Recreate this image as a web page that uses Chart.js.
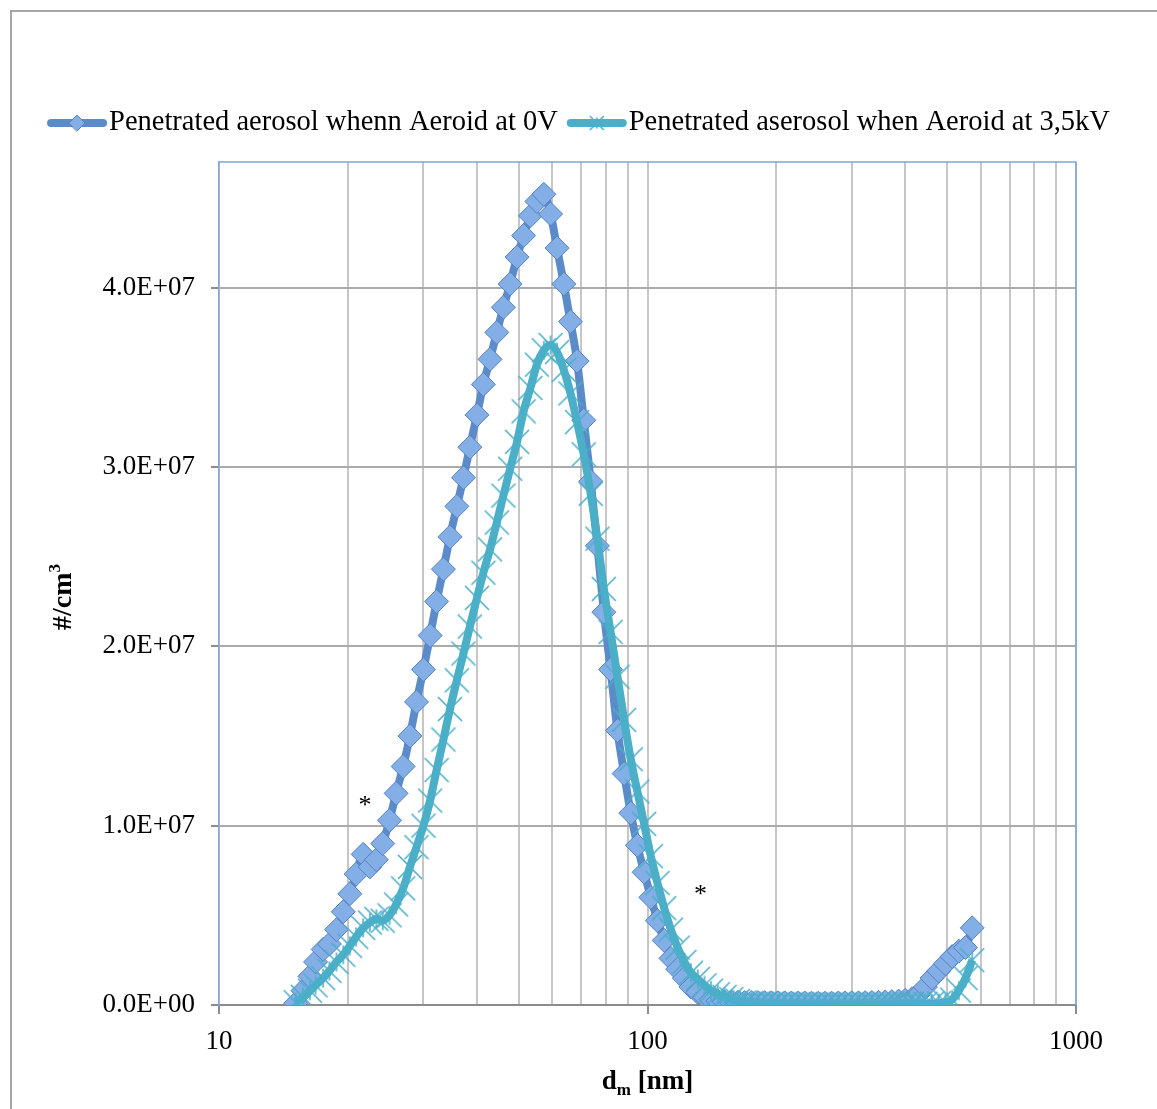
<!DOCTYPE html>
<html>
<head>
<meta charset="utf-8">
<title>Penetrated aerosol</title>
<script src="https://cdn.jsdelivr.net/npm/chart.js@4.4.1/dist/chart.umd.min.js"></script>
<style>
  html, body { margin: 0; padding: 0; background: #fff; overflow: hidden; }
  #frame { position: absolute; left: 10px; top: 10px; width: 1300px; height: 1300px;
           border-left: 2px solid #a6a6a6; border-top: 2px solid #a6a6a6; }
  #chart { position: absolute; left: 0; top: 0; }
</style>
</head>
<body>
<div id="frame"></div>
<canvas id="chart" width="1157" height="1109"></canvas>
<script>
// mobility diameter channels, nm
const diameters = [
  15.1, 15.7, 16.3, 16.8, 17.5, 18.1, 18.8, 19.5, 20.2, 20.9,
  21.7, 22.5, 23.3, 24.1, 25.0,
  25.9, 26.9, 27.9, 28.9, 30.0, 31.1, 32.2, 33.4, 34.6, 35.9, 37.2, 38.5, 40.0,
  41.4, 42.9, 44.5, 46.1, 47.8, 49.6, 51.4, 53.3, 55.2, 57.3, 59.4, 61.5, 63.8,
  66.1, 68.5, 71.0, 73.7, 76.4, 79.1, 82.0, 85.1, 88.2, 91.4, 94.7, 98.2, 101.8,
  105.5, 109.4, 113.4, 117.6, 121.9, 126.3, 131.0, 135.8, 140.7, 145.9, 151.2, 156.8,
  162.5, 168.5, 174.7, 181.1, 187.7, 194.6, 201.7, 209.1, 216.7, 224.7, 232.9, 241.4, 250.3,
  259.5, 269.0, 278.8, 289.0, 299.6, 310.6, 322.0, 333.8, 346.0, 358.7, 371.8, 385.4, 399.5,
  414.2, 429.4, 445.1, 461.4, 478.3, 495.8, 514.0, 532.8, 552.3, 572.5
];

// concentrations in millions of particles per cm3
const aerosol0V = [
  0.1, 0.8, 1.6, 2.4, 3.1, 3.4, 4.2, 5.2, 6.2, 7.3,
  8.4, 7.7, 8.1, 9.0, 10.3,
  11.8, 13.3, 15.0, 16.9, 18.7, 20.6, 22.5, 24.3, 26.1, 27.8, 29.4, 31.1, 32.9,
  34.6, 36.0, 37.5, 38.9, 40.2, 41.7, 42.9, 44.0, 44.8, 45.2, 44.1, 42.2, 40.2,
  38.1, 35.9, 32.6, 29.2, 25.6, 21.9, 18.7, 15.3, 12.9, 10.7, 8.9, 7.4, 6.0,
  4.7, 3.6, 2.6, 2.0, 1.5, 1.0, 0.7, 0.45, 0.3, 0.22, 0.18, 0.16,
  0.15, 0.14, 0.14, 0.13, 0.13, 0.12, 0.12, 0.12, 0.11, 0.11, 0.11, 0.1, 0.1,
  0.1, 0.1, 0.11, 0.11, 0.12, 0.12, 0.13, 0.14, 0.15, 0.17, 0.19, 0.22, 0.26,
  0.35, 0.6, 1.0, 1.5, 1.9, 2.3, 2.7, 3.0, 3.2, 4.3
];
const aerosol35kV = [
  0.15, 0.45, 0.8, 1.1, 1.5, 1.9, 2.4, 2.8, 3.3, 3.8,
  4.3, 4.6, 4.8, 4.7, 5.0,
  5.6, 6.5, 7.7, 8.8, 10.0, 11.4, 13.1, 14.8, 16.5, 18.1, 19.6, 21.1, 22.7,
  24.1, 25.4, 26.9, 28.4, 29.9, 31.4, 33.1, 34.4, 35.7, 36.5, 36.8, 36.4, 35.4,
  34.1, 32.5, 30.7, 28.5, 26.0, 23.2, 20.8, 18.3, 15.9, 13.7, 11.9, 10.1, 8.3,
  6.8, 5.4, 4.2, 3.2, 2.4, 1.8, 1.45, 1.1, 0.8, 0.6, 0.45, 0.33,
  0.22, 0.15, 0.11, 0.09, 0.08, 0.07, 0.06, 0.06, 0.05, 0.05, 0.05, 0.04, 0.04,
  0.04, 0.04, 0.04, 0.04, 0.04, 0.04, 0.04, 0.04, 0.05, 0.05, 0.05, 0.05, 0.06,
  0.06, 0.06, 0.07, 0.08, 0.1, 0.14, 0.3, 0.8, 1.5, 2.5
];

const seriesNames = ['Penetrated aerosol whenn Aeroid at 0V', 'Penetrated aserosol when Aeroid at 3,5kV'];
const xTickLabels = [10, 100, 1000];
const yTicks = [0, 1e7, 2e7, 3e7, 4e7];
// the two asterisks on the plot: diameter, concentration (millions)
const notes = [
  { d: 21.9, n: 11.4, text: '*' },
  { d: 132.9, n: 6.4, text: '*' }
];

const MILLION = 1e6;
const serif = "'Liberation Serif', 'Times New Roman', serif";
const blue = '#5b8bc9';
const aqua = '#4bafc8';

function toPoints(values) {
  return diameters.map((d, i) => ({ x: d, y: values[i] * MILLION }));
}

function sci(v) {
  if (v === 0) return '0.0E+00';
  const e = Math.floor(Math.log10(v));
  const m = v / Math.pow(10, e);
  return m.toFixed(1) + 'E+' + String(e).padStart(2, '0');
}

// excel "star" marker: X with a vertical bar
function starMarker(color, arm) {
  const c = document.createElement('canvas');
  const s = arm * 2 + 4;
  c.width = s; c.height = s;
  const g = c.getContext('2d');
  const m = s / 2;
  g.strokeStyle = color;
  g.lineWidth = 1.6;
  g.beginPath();
  g.moveTo(m - arm, m - arm); g.lineTo(m + arm, m + arm);
  g.moveTo(m + arm, m - arm); g.lineTo(m - arm, m + arm);
  g.moveTo(m, m - arm * 0.8); g.lineTo(m, m + arm * 0.8);
  g.stroke();
  return c;
}

const frameLines = {
  id: 'frameLines',
  beforeDatasetsDraw(chart) {
    const { ctx, chartArea: a } = chart;
    ctx.save();
    ctx.strokeStyle = '#7fa6d6';
    ctx.lineWidth = 1.5;
    ctx.beginPath();
    ctx.moveTo(a.left, a.top); ctx.lineTo(a.right, a.top); ctx.lineTo(a.right, a.bottom);
    ctx.stroke();
    ctx.restore();
  }
};

function drawRuns(ctx, runs, x, y) {
  runs.forEach(r => {
    ctx.font = r.font;
    ctx.fillText(r.text, x, y + r.dy);
    x += ctx.measureText(r.text).width;
  });
}
function runsWidth(ctx, runs) {
  return runs.reduce((w, r) => { ctx.font = r.font; return w + ctx.measureText(r.text).width; }, 0);
}

const texts = {
  id: 'texts',
  afterDraw(chart) {
    const { ctx, chartArea: a, scales } = chart;
    ctx.save();
    ctx.fillStyle = '#000';
    const big = `bold 27px ${serif}`, small = `bold 17px ${serif}`;

    // x title with subscript
    const xRuns = [{ text: 'd', font: big, dy: 0 }, { text: 'm', font: small, dy: 6 }, { text: ' [nm]', font: big, dy: 0 }];
    ctx.textBaseline = 'alphabetic';
    drawRuns(ctx, xRuns, (a.left + a.right) / 2 - runsWidth(ctx, xRuns) / 2, a.bottom + 84);

    // y title with superscript
    const yRuns = [{ text: '#/cm', font: `bold 28px ${serif}`, dy: 0 }, { text: '3', font: small, dy: -11 }];
    ctx.save();
    ctx.translate(62, 597);
    ctx.rotate(-Math.PI / 2);
    drawRuns(ctx, yRuns, -runsWidth(ctx, yRuns) / 2, 9);
    ctx.restore();

    // asterisks
    ctx.font = `26px ${serif}`;
    ctx.textAlign = 'center';
    notes.forEach(nt => {
      const px = scales.x.getPixelForValue(nt.d);
      const py = scales.y.getPixelForValue(nt.n * MILLION);
      const m = ctx.measureText(nt.text);
      ctx.fillText(nt.text, px, py + (m.actualBoundingBoxAscent - m.actualBoundingBoxDescent) / 2);
    });
    ctx.textAlign = 'left';

    // legend
    ctx.font = `28.5px ${serif}`;
    ctx.textBaseline = 'middle';
    const sample = 60, gapText = 2, gapItem = 9;
    const sets = chart.data.datasets;
    const widths = sets.map(ds => sample + gapText + ctx.measureText(ds.label).width);
    let x = (chart.width - widths.reduce((p, q) => p + q, 0) - gapItem * (sets.length - 1)) / 2;
    const y = 123;
    sets.forEach((ds, i) => {
      ctx.strokeStyle = ds.borderColor;
      ctx.lineWidth = 8;
      ctx.lineCap = 'round';
      ctx.beginPath(); ctx.moveTo(x + 4, y); ctx.lineTo(x + sample - 4, y); ctx.stroke();
      const cx = x + sample / 2;
      if (i === 0) {
        ctx.fillStyle = ds.pointBackgroundColor;
        ctx.strokeStyle = ds.pointBorderColor;
        ctx.lineWidth = 1;
        ctx.beginPath();
        ctx.moveTo(cx - 8, y); ctx.lineTo(cx, y - 8); ctx.lineTo(cx + 8, y); ctx.lineTo(cx, y + 8);
        ctx.closePath(); ctx.fill(); ctx.stroke();
      } else {
        const img = starMarker(ds.borderColor, 7);
        ctx.drawImage(img, cx - img.width / 2, y - img.height / 2);
      }
      ctx.fillStyle = '#000';
      ctx.fillText(ds.label, x + sample + gapText, y);
      x += widths[i] + gapItem;
    });
    ctx.restore();
  }
};

const gridValues = [];
for (let dec = 10; dec < 1000; dec *= 10) {
  for (let k = 1; k < 10; k++) gridValues.push(dec * k);
}
gridValues.push(1000);

new Chart(document.getElementById('chart'), {
  type: 'line',
  data: {
    datasets: [
      {
        label: seriesNames[0],
        data: toPoints(aerosol0V),
        borderColor: blue,
        borderWidth: 8,
        pointStyle: 'rectRot',
        pointRadius: 12,
        pointBackgroundColor: '#84aee6',
        pointBorderColor: '#5582c0',
        pointBorderWidth: 1,
        cubicInterpolationMode: 'monotone',
        order: 2
      },
      {
        label: seriesNames[1],
        data: toPoints(aerosol35kV),
        borderColor: aqua,
        borderWidth: 8,
        pointStyle: starMarker(aqua, 12),
        pointRadius: 12,
        cubicInterpolationMode: 'monotone',
        order: 1
      }
    ]
  },
  options: {
    responsive: false,
    animation: false,
    events: [],
    layout: { padding: { top: 162, right: 81, bottom: 0, left: 0 } },
    plugins: { legend: { display: false }, tooltip: { enabled: false } },
    scales: {
      x: {
        type: 'logarithmic',
        min: 10,
        max: 1000,
        afterBuildTicks: s => { s.ticks = gridValues.map(v => ({ value: v, major: xTickLabels.includes(v) })); },
        afterFit: s => { s.height = 104; },
        ticks: {
          autoSkip: false,
          maxRotation: 0,
          padding: 12,
          color: '#000',
          font: { family: serif, size: 27 },
          callback: v => (xTickLabels.includes(v) ? String(v) : '')
        },
        grid: {
          color: '#c6c6c6',
          lineWidth: 2,
          tickLength: 9,
          tickColor: c => (c.tick && xTickLabels.includes(c.tick.value) ? '#8c8c8c' : 'rgba(0,0,0,0)')
        },
        border: { color: '#8c8c8c', width: 2 }
      },
      y: {
        min: 0,
        max: 4.7e7,
        afterBuildTicks: s => { s.ticks = yTicks.map(v => ({ value: v })); },
        afterFit: s => { s.width = 219; },
        ticks: {
          padding: 16,
          color: '#000',
          font: { family: serif, size: 27 },
          callback: v => sci(v)
        },
        grid: { color: '#ababab', lineWidth: 2, tickLength: 8, tickColor: '#8c8c8c' },
        border: { color: '#7fa6d6', width: 1.5 }
      }
    }
  },
  plugins: [frameLines, texts]
});
</script>
</body>
</html>
